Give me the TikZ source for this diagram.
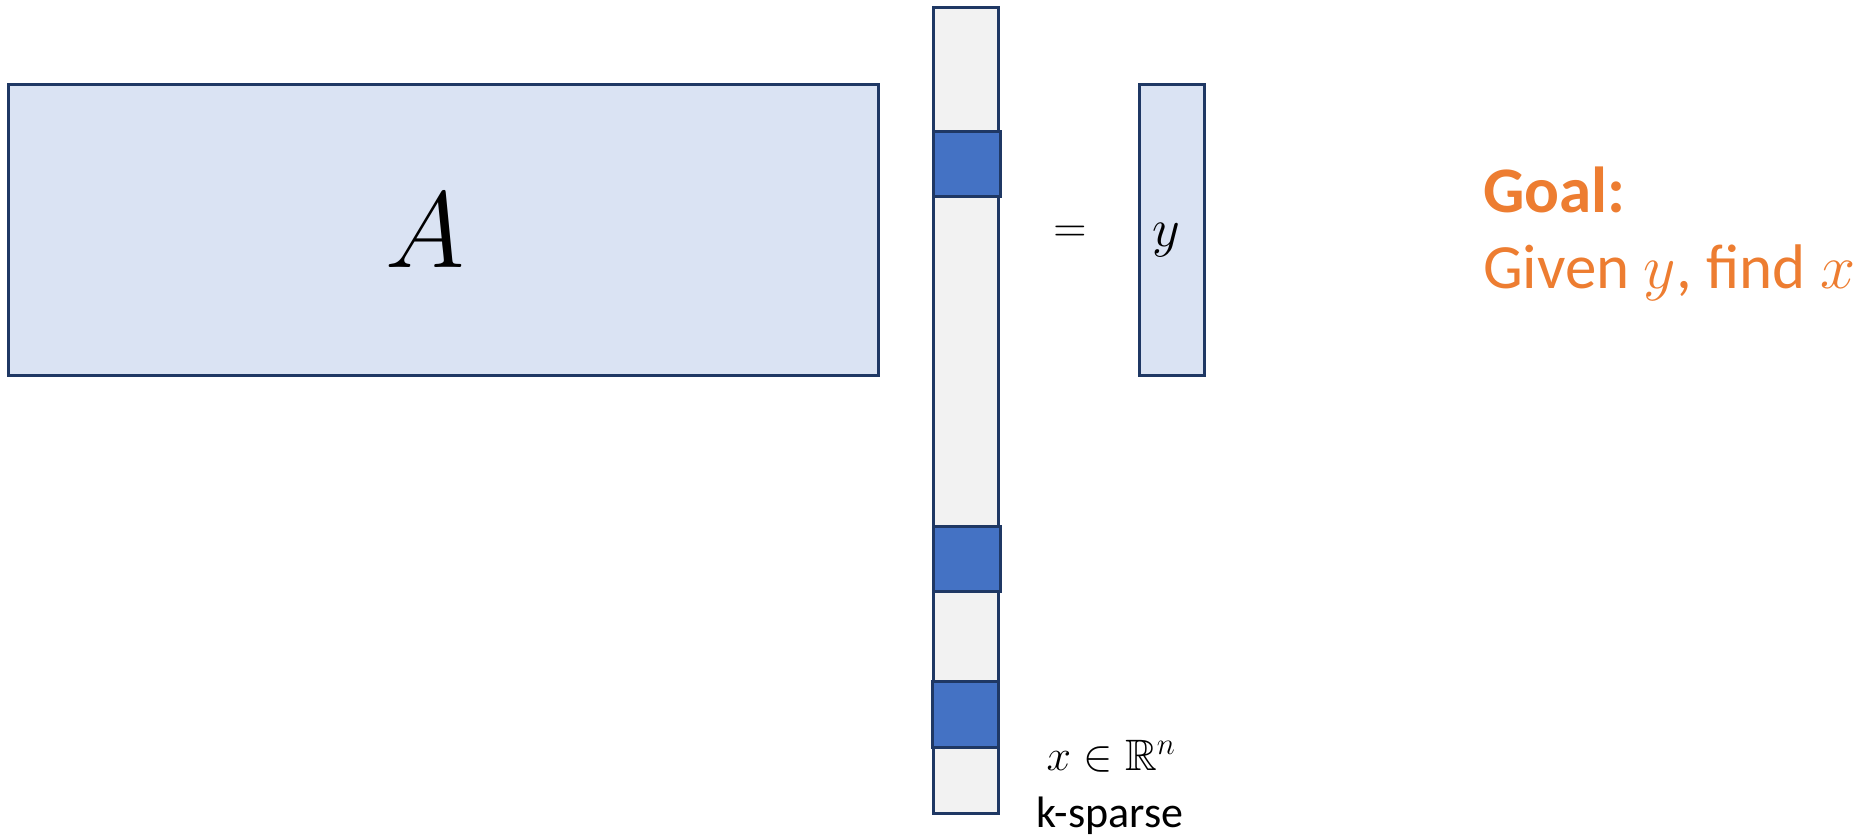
\RequirePackage{fix-cm}
\documentclass[tikz,border=0pt]{standalone}
\usepackage{amssymb}
\usepackage{fontspec}
\setmainfont{Carlito}
\definecolor{edge}{HTML}{1F3864}
\definecolor{afill}{HTML}{DAE3F3}
\definecolor{colfill}{HTML}{F2F2F2}
\definecolor{blk}{HTML}{4472C4}
\definecolor{goal}{HTML}{ED7D31}
\tikzset{
  box/.style={draw=edge, line width=3pt},
  lbl/.style={inner sep=0pt, anchor=base},
}
\newcommand{\fs}[1]{\fontsize{#1}{1.2\dimexpr#1pt\relax}\selectfont}
\begin{document}
\begin{tikzpicture}[x=1pt,y=-1pt]
\useasboundingbox (0,0) rectangle (1875,835);
% matrix A
\draw[box, fill=afill] (8,84) rectangle (878,375);
\node[lbl] (Alab) at (425,267) {\fs{108}$A$};
% x column
\draw[box, fill=colfill] (933.5,7) rectangle (998.5,813);
\draw[box, fill=blk] (933.5,131) rectangle (1000,196.5);
\draw[box, fill=blk] (933.5,526) rectangle (1000,591.5);
\draw[box, fill=blk] (932,681.5) rectangle (998.5,747);
% equals
\node[lbl] (eq) at (1070,242) {\fs{46}$=$};
% y vector
\draw[box, fill=afill] (1139.5,84) rectangle (1204.5,375);
\node[lbl] (ylab) at (1166,246) {\fs{54}$y$};
% x label
\node[lbl] (xlab) at (1111,770) {\fs{44}$x\in\mathbb{R}^n$};
\node[lbl] (ks) at (1110,827) {\fs{44}k-sparse};
% goal
\node[lbl, anchor=base west, text=goal] (goal) at (1483,212) {\fs{65}\bfseries Goal:};
\node[lbl, anchor=base west, text=goal] (given) at (1483,288) {\fs{63}Given $y$, find $x$};
\end{tikzpicture}
\end{document}
